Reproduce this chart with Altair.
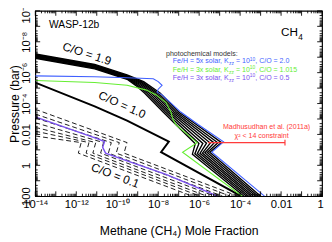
import json
import altair as alt
import pandas as pd

W, H = 294, 190
FONT = "Liberation Sans"

# ---------------- axes ----------------
X_LABEL_EXP = [-14, -12, -10, -8, -6, -4, -2, 0]
X_LABELS = ["10⁻¹⁴", "10⁻¹²", "10⁻¹⁰", "10⁻⁸", "10⁻⁶", "10⁻⁴", "0.01", "1"]
Y_LABEL_EXP = [-10, -8, -6, -4, -2, 0, 2]
Y_LABELS = ["10⁻¹⁰", "10⁻⁸", "10⁻⁶", "10⁻⁴", "0.01", "1", "100"]
X_DECADES = list(range(-14, 1))
Y_DECADES = list(range(-10, 3))
MINOR_MULT = [2, 3, 4, 5, 6, 7, 8, 9]

# ---------------- data (log10 mole fraction, log10 pressure) ----------------
# C/O = 1.9 bundle: 8 models, values at 10 points along each curve (inner -> outer)
CO19_LX = [
    [-14.00, -14.00, -14.00, -14.00, -14.00, -14.00, -14.00, -14.00],
    [-11.10, -11.10, -11.10, -11.10, -11.10, -11.10, -11.10, -11.10],
    [-9.52, -9.52, -9.52, -9.52, -9.52, -9.52, -9.52, -9.52],
    [-9.10, -9.04, -8.99, -8.93, -8.88, -8.82, -8.77, -8.71],
    [-8.67, -8.56, -8.45, -8.34, -8.23, -8.12, -8.02, -7.91],
    [-7.76, -7.65, -7.54, -7.44, -7.33, -7.22, -7.11, -7.00],
    [-7.14, -7.00, -6.86, -6.71, -6.57, -6.43, -6.29, -6.14],
    [-6.19, -6.01, -5.82, -5.64, -5.46, -5.27, -5.09, -4.91],
    [-6.33, -6.21, -6.09, -5.96, -5.84, -5.72, -5.60, -5.48],
    [-3.81, -3.69, -3.58, -3.46, -3.35, -3.23, -3.12, -3.00],
]
CO19_LP = [
    [-6.93, -6.97, -7.01, -7.05, -7.09, -7.13, -7.17, -7.21],
    [-6.25, -6.29, -6.33, -6.37, -6.41, -6.45, -6.49, -6.53],
    [-5.57, -5.61, -5.65, -5.69, -5.73, -5.77, -5.81, -5.85],
    [-5.18, -5.21, -5.25, -5.28, -5.32, -5.35, -5.39, -5.42],
    [-4.68, -4.68, -4.68, -4.68, -4.68, -4.68, -4.68, -4.68],
    [-3.45, -3.45, -3.45, -3.45, -3.45, -3.45, -3.45, -3.45],
    [-2.64, -2.64, -2.64, -2.64, -2.64, -2.64, -2.64, -2.64],
    [-1.40, -1.41, -1.42, -1.43, -1.44, -1.45, -1.46, -1.47],
    [-0.72, -0.74, -0.76, -0.78, -0.79, -0.81, -0.83, -0.85],
    [2.00, 2.00, 2.00, 2.00, 2.00, 2.00, 2.00, 2.00],
]

CO10_LX = [-14.00, -11.10, -9.52, -7.48, -7.86, -3.95]
CO10_LP = [-5.36, -3.82, -2.89, -1.53, -0.85, 2.00]

BLUE_LX = [-14.00, -11.10, -9.52, -8.24, -8.00, -7.81, -8.00, -8.05, -7.81,
           -6.90, -6.05, -4.81, -5.38, -2.81]
BLUE_LP = [-5.79, -5.73, -5.67, -5.61, -5.42, -5.18, -4.93, -4.74, -4.56,
           -3.45, -2.64, -1.53, -0.85, 2.00]

GREEN_LX = [-14.00, -11.10, -9.52, -8.57, -8.10, -7.62, -7.38, -7.29, -7.14,
            -6.10, -6.81, -3.90]
GREEN_LP = [-5.49, -5.36, -5.18, -4.87, -4.56, -4.06, -3.45, -3.01, -2.64,
            -1.47, -0.85, 2.00]

PURPLE_LX = [-14.00, -10.95, -10.62, -10.71, -10.57, -9.52, -7.62, -5.10]
PURPLE_LP = [-3.14, -1.71, -1.53, -1.16, -0.79, -0.29, 0.58, 2.00]

# C/O = 0.1 dashed bundle: 7 models, 4 points each
DASH_TOP_LP = [-3.63, -3.32, -3.07, -2.76, -2.46, -2.21, -1.90]
DASH_KINK_LX = [-9.52, -9.90, -10.29, -10.67, -11.05, -11.38, -11.76]
DASH_STEP_LX = [-9.67, -10.05, -10.43, -10.81, -11.19, -11.52, -11.90]
DASH_BOTTOM_LX = [-4.10, -4.48, -4.86, -5.24, -5.62, -5.95, -6.33]
DASH_KINK_LP, DASH_STEP_LP, BOTTOM_LP = -1.47, -0.79, 2.00

# Madhusudhan et al. constraint
RED_LX = [-5.57, -1.81]
RED_LP = -1.47
RED_CAP_LP = [-1.65, -1.28]

BLUE, GREEN, PURPLE, RED = "#3f5fff", "#66ee33", "#7a50f0", "#ff3b3b"

LEG_TEXT1 = ["Fe/H = 5x solar, K", "Fe/H = 3x solar, K", "Fe/H = 3x solar, K"]
LEG_TEXT5 = [", C/O = 2.0", ", C/O = 1.015", ", C/O = 0.5"]
LEG_COLORS = [BLUE, GREEN, PURPLE]
LEG_LP = [-6.72, -6.17, -5.67]
LEG_LX = -7.29

# ---------------- scales / axes ----------------
XS = alt.Scale(type="log", domain=[1e-14, 1])
YS = alt.Scale(type="log", domain=[1e-10, 100], reverse=True)


def lbl_expr(labels, offset):
    return f"{json.dumps(labels, ensure_ascii=False)}[round(log(datum.value)/LN10/2)+{offset}]"


XAX = alt.Axis(values=[10.0 ** e for e in X_LABEL_EXP], labelExpr=lbl_expr(X_LABELS, 7),
               ticks=False, tickSize=0, domain=False, grid=False, labelFlush=False,
               labelOverlap=False, labelFont=FONT, labelFontSize=11.5, labelColor="black",
               labelPadding=3, labelBaseline="top", labelAlign="center",
               labelOffset={"condition": {"test": "datum.value >= 0.5", "value": -2},
                            "value": 0},
               title="Methane (CH₄) Mole Fraction", titleFont=FONT, titleFontSize=12.5,
               titleFontWeight="normal", titleColor="black", titleX=147, titleY=35,
               titleAlign="center", titleBaseline="middle")
YAX = alt.Axis(values=[10.0 ** e for e in Y_LABEL_EXP], labelExpr=lbl_expr(Y_LABELS, 5),
               ticks=False, tickSize=0, domain=False, grid=False, labelFlush=False,
               labelOverlap=False, labelFont=FONT, labelFontSize=11.5, labelColor="black",
               labelAngle=270, labelAlign="center", labelBaseline="bottom", labelPadding=4,
               title="Pressure (bar)", titleFont=FONT, titleFontSize=12.5,
               titleFontWeight="normal", titleColor="black", titleAngle=270,
               titleX=-21, titleY=H / 2, titleAlign="center", titleBaseline="middle")


def xe():
    return alt.X("x:Q", scale=XS, axis=XAX)


def ye():
    return alt.Y("p:Q", scale=YS, axis=YAX)


def line_df(lxs, lps, ident):
    return pd.DataFrame({"x": [10.0 ** v for v in lxs], "p": [10.0 ** v for v in lps],
                         "id": ident, "i": list(range(len(lxs)))})


def line_layer(df, color, width, dash=None):
    kw = dict(color=color, strokeWidth=width, clip=True)
    if dash:
        kw["strokeDash"] = dash
    return alt.Chart(df).mark_line(**kw).encode(
        x=xe(), y=ye(), detail="id:N", order="i:Q")


layers = []

# dashed C/O = 0.1 band
dash_frames = []
for j in range(len(DASH_TOP_LP)):
    dash_frames.append(line_df(
        [-14.0, DASH_KINK_LX[j], DASH_STEP_LX[j], DASH_BOTTOM_LX[j]],
        [DASH_TOP_LP[j], DASH_KINK_LP, DASH_STEP_LP, BOTTOM_LP], f"d{j}"))
layers.append(line_layer(pd.concat(dash_frames), "black", 0.9, [5, 3]))

# purple
layers.append(line_layer(line_df(PURPLE_LX, PURPLE_LP, "purple"), PURPLE, 1.4))
# C/O = 1.0
layers.append(line_layer(line_df(CO10_LX, CO10_LP, "co10"), "black", 2.0))
# C/O = 1.9 bundle
bundle = []
n_pts = len(CO19_LX)
for j in range(8):
    bundle.append(line_df([CO19_LX[k][j] for k in range(n_pts)],
                          [CO19_LP[k][j] for k in range(n_pts)], f"b{j}"))
layers.append(line_layer(pd.concat(bundle), "black", 1.4))
# green, blue
layers.append(line_layer(line_df(GREEN_LX, GREEN_LP, "green"), GREEN, 1.1))
layers.append(line_layer(line_df(BLUE_LX, BLUE_LP, "blue"), BLUE, 1.1))

# red constraint
red_df = pd.DataFrame({"x": [10.0 ** RED_LX[0]], "x2": [10.0 ** RED_LX[1]],
                       "p": [10.0 ** RED_LP]})
layers.append(alt.Chart(red_df).mark_rule(color=RED, strokeWidth=1.2).encode(
    x=xe(), x2="x2:Q", y=ye()))
cap_df = pd.DataFrame({"x": [10.0 ** RED_LX[1]], "p": [10.0 ** RED_CAP_LP[0]],
                       "p2": [10.0 ** RED_CAP_LP[1]]})
layers.append(alt.Chart(cap_df).mark_rule(color=RED, strokeWidth=1.2).encode(
    x=xe(), y=ye(), y2="p2:Q"))


def text_layer(df, **kw):
    base = dict(font=FONT)
    base.update(kw)
    return alt.Chart(df).mark_text(**base).encode(x=xe(), y=ye(), text="t:N")


def tdf(lx, lp, t):
    return pd.DataFrame({"x": [10.0 ** lx], "p": [10.0 ** lp], "t": [t]})


layers.append(text_layer(tdf(-13.33, -9.07, "WASP-12b"), align="left", baseline="middle",
                         fontSize=10.5, color="black"))
layers.append(text_layer(tdf(-2.0, -8.64, "CH"), align="left", baseline="middle",
                         fontSize=12, color="black"))
layers.append(text_layer(tdf(-2.0, -8.64, "4"), align="left", baseline="middle",
                         fontSize=8.5, dx=17.5, dy=5, color="black"))
layers.append(text_layer(tdf(-11.48, -7.22, "C/O = 1.9"), align="center", baseline="middle",
                         fontSize=12, angle=18, color="black"))
layers.append(text_layer(tdf(-9.76, -3.92, "C/O = 1.0"), align="center", baseline="middle",
                         fontSize=12, angle=24, color="black"))
layers.append(text_layer(tdf(-10.10, 0.66, "C/O = 0.1"), align="center", baseline="middle",
                         fontSize=12, angle=21, color="black"))
layers.append(text_layer(tdf(-7.62, -7.22, "photochemical models:"), align="left",
                         baseline="middle", fontSize=7.2, color="#333333"))
layers.append(text_layer(tdf(-2.71, -2.46, "Madhusudhan et al. (2011a)"), align="center",
                         baseline="middle", fontSize=7.2, color=RED))
layers.append(text_layer(tdf(-2.95, -1.90, "χ² < 14 constraint"), align="center",
                         baseline="middle", fontSize=7.2, color=RED))

# legend lines built from pieces (text, sub/superscripts)
leg = pd.DataFrame({"x": [10.0 ** LEG_LX] * 3, "p": [10.0 ** v for v in LEG_LP],
                    "c": LEG_COLORS, "t1": LEG_TEXT1, "t2": ["zz"] * 3,
                    "t3": ["= 10"] * 3, "t4": ["10"] * 3, "t5": LEG_TEXT5})
pieces = [("t1", 0.0, 0, 7.2), ("t2", 57.8, 2, 5.0), ("t3", 64.8, 0, 7.2),
          ("t4", 79.0, -3, 5.0), ("t5", 84.6, 0, 7.2)]
for field, dx, dy, fs in pieces:
    layers.append(alt.Chart(leg).mark_text(font=FONT, align="left", baseline="middle",
                                           dx=dx, dy=dy, fontSize=fs).encode(
        x=xe(), y=ye(), text=f"{field}:N", color=alt.Color("c:N", scale=None)))

# inward tick marks on all four sides
xt_major = pd.DataFrame({"x": [10.0 ** k for k in X_DECADES]})
xt_minor = pd.DataFrame({"x": [m * 10.0 ** k for k in X_DECADES[:-1] for m in MINOR_MULT]})
yt_major = pd.DataFrame({"p": [10.0 ** k for k in Y_DECADES]})
yt_minor = pd.DataFrame({"p": [m * 10.0 ** k for k in Y_DECADES[:-1] for m in MINOR_MULT]})
for df, L in [(xt_major, 5), (xt_minor, 2.5)]:
    layers.append(alt.Chart(df).mark_rule(color="black", strokeWidth=0.9).encode(
        x=xe(), y=alt.value(H), y2=alt.value(H - L)))
    layers.append(alt.Chart(df).mark_rule(color="black", strokeWidth=0.9).encode(
        x=xe(), y=alt.value(0), y2=alt.value(L)))
for df, L in [(yt_major, 5), (yt_minor, 2.5)]:
    layers.append(alt.Chart(df).mark_rule(color="black", strokeWidth=0.9).encode(
        y=ye(), x=alt.value(0), x2=alt.value(L)))
    layers.append(alt.Chart(df).mark_rule(color="black", strokeWidth=0.9).encode(
        y=ye(), x=alt.value(W), x2=alt.value(W - L)))

chart = alt.layer(*layers).properties(
    width=W, height=H,
    padding={"left": 28, "top": 0, "right": 2, "bottom": 44},
    autosize=alt.AutoSizeParams(type="none"),
    background="white",
).configure_view(stroke="black", strokeWidth=1.2)

chart.save("out.html", embed_options={"renderer": "svg", "actions": False})
